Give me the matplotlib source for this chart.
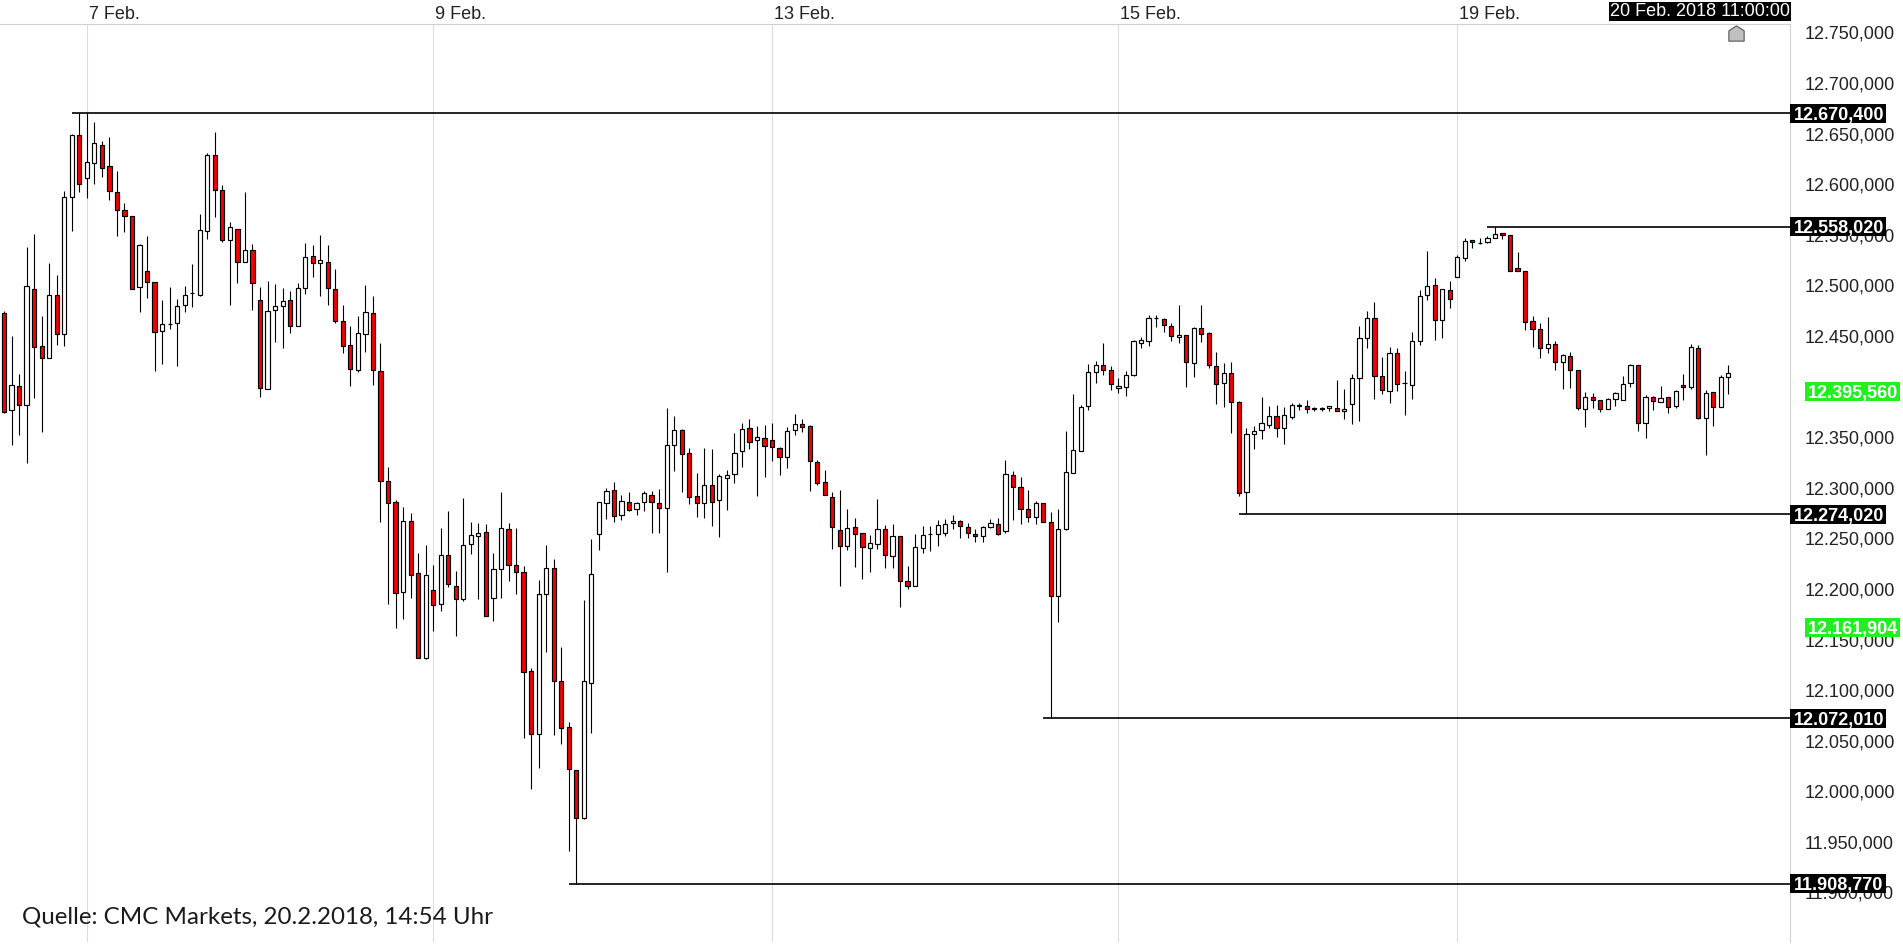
import numpy as np
import matplotlib
matplotlib.use("Agg")
import matplotlib.pyplot as plt
from matplotlib.patches import Rectangle
from matplotlib.path import Path
from matplotlib.ticker import MultipleLocator, FuncFormatter

# hourly DAX candles, 6 Feb - 20 Feb 2018 11:00
opens = [12473, 12377, 12401, 12382, 12496, 12440, 12428, 12491, 12452, 12587,
         12649, 12606, 12621, 12639, 12618, 12592, 12575, 12569, 12498, 12514,
         12503, 12455, 12462, 12463, 12481, 12493, 12491, 12554, 12629, 12594,
         12545, 12556, 12523, 12535, 12486, 12398, 12476, 12480, 12486, 12460,
         12497, 12529, 12522, 12523, 12496, 12465, 12441, 12416, 12452, 12473,
         12415, 12307, 12286, 12197, 12267, 12216, 12132, 12199, 12185, 12234,
         12203, 12190, 12244, 12252, 12256, 12191, 12220, 12259, 12224, 12217,
         12119, 12057, 12195, 12221, 12109, 12064, 12021, 11974, 12107, 12254,
         12285, 12298, 12273, 12286, 12279, 12286, 12293, 12285, 12280, 12342,
         12357, 12334, 12292, 12285, 12303, 12288, 12310, 12314, 12336, 12359,
         12347, 12349, 12347, 12339, 12330, 12357, 12363, 12361, 12325, 12306,
         12291, 12258, 12242, 12261, 12255, 12240, 12244, 12259, 12233, 12252,
         12208, 12203, 12240, 12254, 12254, 12255, 12265, 12267, 12261, 12254,
         12252, 12261, 12264, 12257, 12313, 12301, 12279, 12271, 12285, 12266,
         12193, 12259, 12315, 12336, 12381, 12414, 12421, 12416, 12399, 12400,
         12411, 12443, 12445, 12468, 12467, 12460, 12449, 12451, 12423, 12458,
         12453, 12420, 12404, 12413, 12385, 12296, 12353, 12357, 12362, 12371,
         12359, 12370, 12381, 12381, 12379, 12378, 12379, 12379, 12376, 12383,
         12408, 12448, 12468, 12410, 12396, 12433, 12404, 12402, 12445, 12491,
         12500, 12466, 12495, 12508, 12527, 12545, 12542, 12543, 12547, 12552,
         12550, 12517, 12514, 12465, 12457, 12438, 12442, 12424, 12430, 12416,
         12378, 12390, 12387, 12378, 12388, 12387, 12404, 12421, 12364, 12390,
         12385, 12390, 12381, 12402, 12400, 12438, 12369, 12395, 12380, 12409]
highs = [12475, 12450, 12412, 12538, 12551, 12470, 12522, 12510, 12593, 12650,
         12670.4, 12670, 12662, 12643, 12647, 12613, 12581, 12569, 12541, 12549,
         12503, 12486, 12498, 12487, 12499, 12521, 12571, 12631, 12652, 12599,
         12563, 12556, 12592, 12541, 12498, 12504, 12501, 12497, 12494, 12502,
         12542, 12540, 12550, 12540, 12516, 12481, 12460, 12470, 12500, 12490,
         12443, 12321, 12288, 12281, 12275, 12236, 12243, 12224, 12260, 12277,
         12218, 12290, 12266, 12265, 12264, 12236, 12296, 12265, 12260, 12223,
         12122, 12209, 12243, 12230, 12143, 12068, 12021, 12189, 12249, 12286,
         12300, 12306, 12293, 12296, 12286, 12297, 12297, 12299, 12379, 12371,
         12358, 12339, 12315, 12339, 12338, 12314, 12318, 12354, 12364, 12368,
         12361, 12362, 12364, 12340, 12360, 12373, 12368, 12362, 12327, 12318,
         12296, 12298, 12279, 12270, 12255, 12253, 12289, 12263, 12264, 12252,
         12223, 12254, 12262, 12262, 12268, 12269, 12273, 12268, 12265, 12259,
         12262, 12269, 12270, 12327, 12317, 12311, 12298, 12287, 12285, 12276,
         12279, 12356, 12393, 12382, 12422, 12425, 12443, 12420, 12408, 12415,
         12446, 12449, 12471, 12471, 12468, 12463, 12481, 12451, 12459, 12481,
         12454, 12434, 12423, 12424, 12386, 12359, 12361, 12390, 12381, 12382,
         12380, 12384, 12384, 12387, 12380, 12380, 12381, 12407, 12398, 12412,
         12460, 12475, 12484, 12429, 12439, 12438, 12415, 12454, 12495, 12534,
         12507, 12496, 12504, 12530, 12547, 12545, 12547, 12549, 12558.02, 12552,
         12550, 12533, 12514, 12470, 12463, 12469, 12445, 12432, 12434, 12416,
         12395, 12394, 12387, 12389, 12395, 12410, 12422, 12421, 12392, 12391,
         12401, 12390, 12397, 12412, 12442, 12441, 12397, 12395, 12411, 12421]
lows = [12374, 12342, 12352, 12324, 12389, 12355, 12428, 12441, 12440, 12554,
        12592, 12586, 12600, 12607, 12584, 12549, 12553, 12496, 12474, 12488,
        12415, 12422, 12457, 12420, 12474, 12479, 12490, 12546, 12568, 12543,
        12481, 12502, 12523, 12476, 12390, 12398, 12444, 12438, 12453, 12460,
        12492, 12508, 12490, 12481, 12463, 12433, 12401, 12414, 12434, 12402,
        12266, 12185, 12161, 12170, 12191, 12132, 12131, 12158, 12178, 12202,
        12153, 12188, 12235, 12190, 12173, 12168, 12191, 12208, 12195, 12053,
        12002, 12023, 12138, 12056, 12047, 11941, 11908.77, 11973, 12058, 12238,
        12269, 12266, 12268, 12277, 12273, 12277, 12255, 12255, 12217, 12317,
        12296, 12284, 12271, 12270, 12262, 12251, 12278, 12305, 12321, 12338,
        12292, 12311, 12326, 12313, 12320, 12352, 12355, 12297, 12303, 12293,
        12239, 12203, 12238, 12222, 12210, 12217, 12239, 12221, 12221, 12182,
        12200, 12203, 12236, 12237, 12242, 12252, 12259, 12250, 12250, 12246,
        12246, 12260, 12253, 12255, 12268, 12264, 12266, 12264, 12266, 12072.01,
        12167, 12258, 12315, 12336, 12377, 12404, 12411, 12397, 12394, 12391,
        12410, 12438, 12440, 12459, 12454, 12445, 12443, 12400, 12409, 12444,
        12418, 12383, 12380, 12354, 12292, 12274.02, 12338, 12348, 12359, 12350,
        12343, 12368, 12377, 12374, 12376, 12376, 12376, 12376, 12368, 12363,
        12366, 12438, 12388, 12393, 12384, 12396, 12372, 12388, 12441, 12486,
        12446, 12448, 12478, 12508, 12524, 12537, 12541, 12542, 12547, 12546,
        12514, 12514, 12456, 12439, 12428, 12433, 12416, 12398, 12399, 12377,
        12360, 12379, 12375, 12378, 12381, 12387, 12400, 12356, 12349, 12377,
        12385, 12374, 12379, 12387, 12398, 12368, 12332, 12361, 12380, 12393]
closes = [12375, 12402, 12382, 12499, 12439, 12428, 12491, 12452, 12587, 12649,
          12600, 12622, 12641, 12616, 12593, 12575, 12569, 12496, 12540, 12503,
          12454, 12462, 12462, 12480, 12491, 12493, 12555, 12629, 12594, 12545,
          12558, 12523, 12535, 12502, 12399, 12475, 12480, 12485, 12460, 12497,
          12528, 12522, 12525, 12497, 12465, 12440, 12417, 12453, 12474, 12416,
          12307, 12285, 12196, 12267, 12214, 12132, 12214, 12184, 12234, 12205,
          12190, 12243, 12253, 12255, 12173, 12220, 12260, 12224, 12217, 12118,
          12057, 12195, 12221, 12109, 12063, 12022, 11974, 12109, 12215, 12286,
          12297, 12272, 12287, 12278, 12285, 12295, 12286, 12280, 12342, 12357,
          12333, 12291, 12285, 12303, 12286, 12312, 12313, 12334, 12358, 12345,
          12350, 12341, 12340, 12330, 12356, 12363, 12360, 12326, 12305, 12293,
          12261, 12242, 12260, 12254, 12241, 12245, 12259, 12234, 12252, 12208,
          12203, 12241, 12253, 12254, 12263, 12264, 12267, 12262, 12255, 12252,
          12261, 12265, 12254, 12314, 12301, 12279, 12271, 12285, 12266, 12193,
          12259, 12316, 12337, 12380, 12414, 12421, 12416, 12403, 12401, 12411,
          12445, 12446, 12468, 12468, 12461, 12450, 12451, 12424, 12458, 12452,
          12421, 12403, 12413, 12385, 12295, 12353, 12356, 12364, 12371, 12359,
          12372, 12382, 12382, 12378, 12378, 12379, 12381, 12376, 12378, 12408,
          12448, 12468, 12410, 12397, 12433, 12403, 12404, 12445, 12490, 12499,
          12466, 12496, 12487, 12528, 12544, 12543, 12542, 12547, 12551, 12550,
          12514, 12514, 12464, 12457, 12438, 12442, 12424, 12431, 12416, 12379,
          12390, 12387, 12378, 12388, 12394, 12403, 12421, 12364, 12390, 12386,
          12389, 12380, 12396, 12400, 12439, 12369, 12394, 12380, 12409, 12413]

day_labels = ["7 Feb.", "9 Feb.", "13 Feb.", "15 Feb.", "19 Feb."]
day_start = [11, 57, 102, 148, 193]   # first candle of each labelled day
levels = [12670.4, 12558.02, 12274.02, 12072.01, 11908.77]
green_levels = [12395.56, 12161.904]
last_time = "20 Feb. 2018 11:00:00"
source = "Quelle: CMC Markets, 20.2.2018, 14:54 Uhr"


def de_fmt(v, pos=None):
    s = f"{v:,.3f}"
    return s.replace(",", "X").replace(".", ",").replace("X", ".")


def tick_fmt(v, pos=None):
    # the current-price box hides the tick label right behind it
    if any(abs(v - g) < 6 for g in green_levels):
        return ""
    return de_fmt(v)


plt.rcParams['font.family'] = ['Liberation Sans', 'DejaVu Sans']

W, H = 1903, 946
AXW, AXH = 1790, 918
fig = plt.figure(figsize=(W / 100, H / 100), dpi=100)
ax = fig.add_axes([0, 4 / H, AXW / W, AXH / H])

o = np.array(opens, float)
h = np.array(highs, float)
l = np.array(lows, float)
c = np.array(closes, float)
x = np.arange(len(o))
up = c >= o

step = 7.53  # px per candle
ax.set_xlim(-4 / step, (AXW - 4) / step)
ax.set_ylim(11851.0, 12758.4)

# day separators
for d in day_start:
    ax.axvline(d, color='#dcdcdc', lw=0.8, zorder=1)

# candles
ax.vlines(x, l, h, color='black', lw=0.8, zorder=2)
ax.bar(x, np.abs(c - o), bottom=np.minimum(o, c), width=0.56,
       color=np.where(up, 'white', '#f00000'), edgecolor='black',
       linewidth=0.85, zorder=3)

ytr = ax.get_yaxis_transform()
xtr = ax.get_xaxis_transform()
half = 9.4  # half box height in price units

# support / resistance lines with black price boxes
for lv in levels:
    dist = np.minimum(np.abs(h - lv), np.abs(l - lv))
    i0 = int(np.argmin(dist))
    ax.hlines(lv, i0 - 1, ax.get_xlim()[1], color='black', lw=1.2, zorder=4)
    ax.add_patch(Rectangle((1.0, lv - half), 96 / AXW, 2 * half, transform=ytr,
                           facecolor='black', edgecolor='none', clip_on=False, zorder=5))
    ax.text(1.0 + 4 / AXW, lv, de_fmt(lv), transform=ytr, color='white',
            fontsize=13, fontweight='bold', ha='left', va='center_baseline',
            clip_on=False, zorder=6)

for lv in green_levels:
    ax.add_patch(Rectangle((1.0 + 15 / AXW, lv - half), 95 / AXW, 2 * half, transform=ytr,
                           facecolor='#22ee22', edgecolor='none', clip_on=False, zorder=5))
    ax.text(1.0 + 18 / AXW, lv, de_fmt(lv), transform=ytr, color='white',
            fontsize=13, fontweight='bold', ha='left', va='center_baseline',
            clip_on=False, zorder=6)

# price axis on the right
ax.yaxis.tick_right()
ax.yaxis.set_major_locator(MultipleLocator(50))
ax.yaxis.set_major_formatter(FuncFormatter(tick_fmt))
ax.tick_params(axis='y', which='major', length=0, pad=10.8, labelsize=13,
               labelcolor='#222222')
ax.set_xticks([])
for s in ['left', 'bottom']:
    ax.spines[s].set_visible(False)
for s in ['top', 'right']:
    ax.spines[s].set_color('#d0d0d0')
    ax.spines[s].set_linewidth(0.8)

# day labels above the chart
for d, lab in zip(day_start, day_labels):
    ax.annotate(lab, xy=(d, 1.0), xycoords=xtr, xytext=(2, 9.4),
                textcoords='offset pixels', ha='left', va='center',
                fontsize=13, color='#222222', annotation_clip=False)

# current time marker
house = Path([(0, 1), (1, 0.35), (1, -1), (-1, -1), (-1, 0.35), (0, 1)])
ax.plot([len(o)], [1 - 9 / AXH], transform=xtr, marker=house, markersize=11,
        mfc='#c0c0c0', mec='#555555', mew=0.8, clip_on=False, zorder=6)
fig.text(1790 / W, 1 - 11.5 / H, last_time, ha='right', va='center',
         fontsize=13, color='white',
         bbox=dict(boxstyle='square,pad=0.05', fc='black', ec='none'))

fig.text(21.7 / W, 1 - 923.3 / H, source, fontsize=17.4, family=['Lato', 'DejaVu Sans'],
         va='baseline', ha='left', color='#1a1a1a')

fig.savefig("out.png", dpi=100, facecolor='white')
